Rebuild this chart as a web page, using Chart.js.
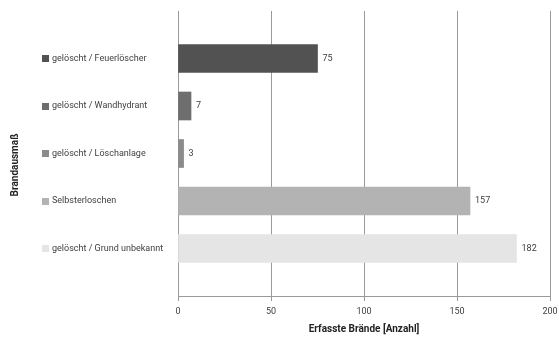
<!DOCTYPE html>
<html>
<head>
<meta charset="utf-8">
<script src="https://cdn.jsdelivr.net/npm/chart.js@4"></script>
<style>
  html, body { margin: 0; padding: 0; background: #fff; }
  #wrap { width: 559px; height: 338px; position: relative; }
</style>
</head>
<body>
<div id="wrap"><canvas id="c" width="559" height="338"></canvas></div>
<script>
// Fire outcome categories and counts
const categories = [
  'gelöscht / Feuerlöscher',
  'gelöscht / Wandhydrant',
  'gelöscht / Löschanlage',
  'Selbsterloschen',
  'gelöscht / Grund unbekannt'
];
const counts = [75, 7, 3, 157, 182];
const barColors = ['#525252', '#6e6e6e', '#8b8b8b', '#b3b3b3', '#e5e5e5'];
const xTicks = [0, 50, 100, 150, 200];

const FONT = 'Roboto, "Open Sans", sans-serif';
const TEXT = '#404040';
const GRID = '#9a9a9a';

// Empty slots above and below keep the bars away from the plot edges
const labels = [''].concat(categories, ['']);
const values = [null].concat(counts, [null]);
const colors = ['#fff'].concat(barColors, ['#fff']);

// Value labels at the end of each bar
const valueLabels = {
  id: 'valueLabels',
  afterDatasetsDraw(chart) {
    const ctx = chart.ctx;
    const meta = chart.getDatasetMeta(0);
    ctx.save();
    ctx.font = '9px ' + FONT;
    ctx.fillStyle = TEXT;
    ctx.textAlign = 'left';
    ctx.textBaseline = 'middle';
    meta.data.forEach((bar, i) => {
      const v = values[i];
      if (v === null) return;
      ctx.fillText(String(v), bar.x + 5, bar.y);
    });
    ctx.restore();
  }
};

// Colour keys in front of the category labels, plus the vertical axis title
const categoryKeys = {
  id: 'categoryKeys',
  afterDraw(chart) {
    const ctx = chart.ctx;
    const y = chart.scales.y;
    ctx.save();
    categories.forEach((name, i) => {
      const py = y.getPixelForValue(i + 1);
      ctx.fillStyle = barColors[i];
      ctx.fillRect(42, Math.round(py - 3.5), 7, 7);
    });
    ctx.translate(15, 165);
    ctx.rotate(-Math.PI / 2);
    ctx.font = 'bold 10px ' + FONT;
    ctx.fillStyle = '#222';
    ctx.textAlign = 'center';
    ctx.textBaseline = 'middle';
    ctx.fillText('Brandausmaß', 0, 0);
    ctx.restore();
  }
};

new Chart(document.getElementById('c'), {
  type: 'bar',
  data: {
    labels: labels,
    datasets: [{
      data: values,
      backgroundColor: colors,
      borderWidth: 0,
      barThickness: 28
    }]
  },
  options: {
    indexAxis: 'y',
    responsive: false,
    animation: false,
    devicePixelRatio: 1,
    layout: { padding: { left: 52, top: 11, right: 9, bottom: 0 } },
    plugins: {
      legend: { display: false },
      tooltip: { enabled: false }
    },
    scales: {
      x: {
        min: 0,
        max: 200,
        afterBuildTicks(scale) { scale.ticks = xTicks.map(v => ({ value: v })); },
        afterFit(scale) {
          scale.height = 42;
          scale.paddingLeft = 0;
          scale.paddingRight = 0;
        },
        grid: { color: GRID, lineWidth: 1, tickLength: 5, drawTicks: true },
        border: { color: GRID, width: 1 },
        ticks: { font: { family: FONT, size: 9 }, color: TEXT, padding: 5, maxRotation: 0 },
        title: {
          display: true,
          text: 'Erfasste Brände [Anzahl]',
          font: { family: FONT, size: 10, weight: 'bold' },
          color: '#222',
          padding: { top: 0, bottom: 3 }
        }
      },
      y: {
        offset: false,
        afterFit(scale) { scale.width = 126; },
        grid: { display: false },
        border: { display: false },
        ticks: {
          crossAlign: 'far',
          font: { family: FONT, size: 9 },
          color: TEXT,
          autoSkip: false
        }
      }
    }
  },
  plugins: [valueLabels, categoryKeys]
});
</script>
</body>
</html>
